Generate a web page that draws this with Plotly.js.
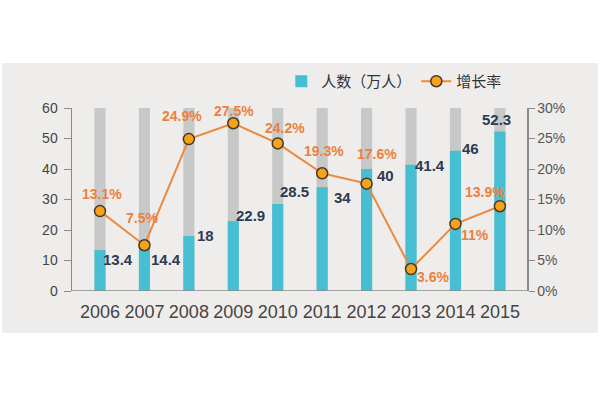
<!DOCTYPE html>
<html>
<head>
<meta charset="utf-8">
<script src="https://cdn.plot.ly/plotly-3.0.1.min.js"></script>
<style>html,body{margin:0;padding:0;background:#fff;}#chart{width:600px;height:400px;}</style>
</head>
<body>
<div id="chart"></div>
<script>
// ---- data ----
var years = ["2006","2007","2008","2009","2010","2011","2012","2013","2014","2015"];
var people = [13.4, 14.4, 18, 22.9, 28.5, 34, 40, 41.4, 46, 52.3];
var growth = [13.1, 7.5, 24.9, 27.5, 24.2, 19.3, 17.6, 3.6, 11, 13.9];
var fullScale = [60, 60, 60, 60, 60, 60, 60, 60, 60, 60];
var peopleLabels = ["13.4","14.4","18","22.9","28.5","34","40","41.4","46","52.3"];
var growthLabels = ["13.1%","7.5%","24.9%","27.5%","24.2%","19.3%","17.6%","3.6%","11%","13.9%"];
var leftTicks = [0, 10, 20, 30, 40, 50, 60];
var rightTicks = [0, 5, 10, 15, 20, 25, 30];
var rightTickText = ["0%","5%","10%","15%","20%","25%","30%"];

// ---- label offsets (px) ----
var peopleShift = [[18,-9],[22,-12],[17,1],[17,6],[17,13],[20,-10],[19,-6],[19,-1],[15,2],[-3,12]];
var growthShift = [[2,17],[-2,27],[-7,23],[1,12],[7,15],[2,22],[10,30],[22,-8],[20,-11],[-15,14]];

var xs = years.map(function(_, i){ return i; });
var font = "Liberation Sans, Arial, Noto Sans CJK SC, sans-serif";

var traces = [
  {type:"bar", x:xs, y:fullScale, width:0.25, marker:{color:"#c7c8c8"}, showlegend:false, hoverinfo:"skip"},
  {type:"bar", x:xs, y:people, width:0.25, marker:{color:"#45bfd1"}, name:"人数（万人）"},
  {type:"scatter", mode:"lines+markers", x:xs, y:growth, yaxis:"y2", name:"增长率",
   line:{color:"#ea8a3e", width:2},
   marker:{size:11, color:"#f5a21f", line:{color:"#4a3820", width:1.5}}}
];

var annotations = [];
xs.forEach(function(x, i){
  annotations.push({x:x, y:people[i], xref:"x", yref:"y", text:"<b>"+peopleLabels[i]+"</b>",
    showarrow:false, xshift:peopleShift[i][0], yshift:peopleShift[i][1],
    font:{family:font, size:15, color:"#2d3a52"}});
  annotations.push({x:x, y:growth[i], xref:"x", yref:"y2", text:"<b>"+growthLabels[i]+"</b>",
    showarrow:false, xshift:growthShift[i][0], yshift:growthShift[i][1],
    font:{family:font, size:14, color:"#e9813f"}});
});

var layout = {
  width:600, height:400,
  margin:{l:72, r:73, t:108, b:109},
  paper_bgcolor:"#ffffff",
  plot_bgcolor:"rgba(0,0,0,0)",
  barmode:"overlay",
  font:{family:font, color:"#444"},
  shapes:[{type:"rect", xref:"paper", yref:"paper", x0:-0.154, x1:1.156, y0:-0.23, y1:1.246,
           fillcolor:"#efedeb", line:{width:0}, layer:"below"}],
  xaxis:{range:[-0.63, 9.61], tickmode:"array", tickvals:xs, ticktext:years,
         showgrid:false, zeroline:false, showline:false, ticks:"", ticklabelstandoff:8,
         tickfont:{size:18, color:"#444"}},
  yaxis:{range:[0,60], tickmode:"array", tickvals:leftTicks, showgrid:false, zeroline:false,
         showline:true, linecolor:"#8a8a8a", linewidth:1.5, ticks:"outside", ticklen:7,
         tickcolor:"#8a8a8a", ticklabelstandoff:3, tickfont:{size:14, color:"#444"}},
  yaxis2:{range:[0,30], overlaying:"y", side:"right", tickmode:"array", tickvals:rightTicks,
          ticktext:rightTickText, showgrid:false, zeroline:false, showline:true,
          linecolor:"#8a8a8a", linewidth:1.5, ticks:"outside", ticklen:6, tickcolor:"#8a8a8a",
          tickfont:{size:14, color:"#555"}},
  showlegend:true,
  legend:{orientation:"h", x:0.46, xanchor:"left", y:1.145, yanchor:"middle",
          bgcolor:"rgba(0,0,0,0)", font:{size:15, color:"#333", family:font}},
  annotations:annotations
};
// bottom axis line
layout.shapes.push({type:"line", xref:"paper", yref:"y", x0:0, x1:1, y0:0, y1:0,
                    line:{color:"#8a8a8a", width:1.5}});

Plotly.newPlot("chart", traces, layout, {displayModeBar:false, staticPlot:true});
</script>
</body>
</html>
